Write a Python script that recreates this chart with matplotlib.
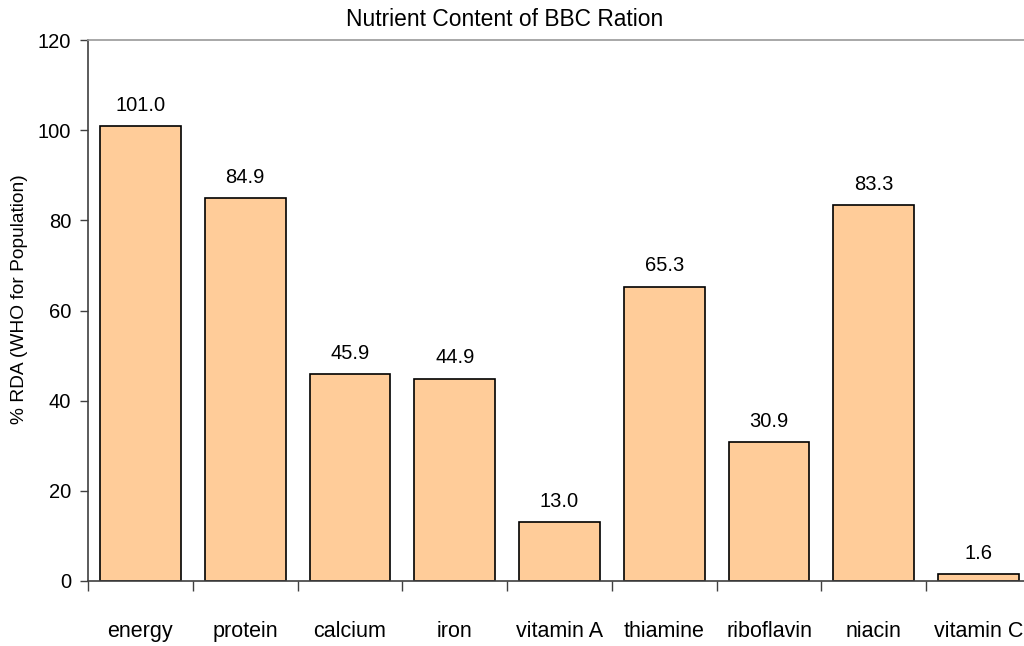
import matplotlib.pyplot as plt
import numpy as np

plt.rcParams['font.family'] = ['Liberation Sans', 'DejaVu Sans']

nutrients = ['energy', 'protein', 'calcium', 'iron', 'vitamin A',
             'thiamine', 'riboflavin', 'niacin', 'vitamin C']
pct_rda = [101.0, 84.9, 45.9, 44.9, 13.0, 65.3, 30.9, 83.3, 1.6]
yticks = [0, 20, 40, 60, 80, 100, 120]

fig = plt.figure(figsize=(10.24, 6.46), dpi=100)
# axes run a bit past the right edge, like the original (cropped) chart
ax = fig.add_axes([88 / 1024, 1 - 581 / 646, (1031 - 88) / 1024, (581 - 40) / 646])

x = np.arange(len(nutrients))
bars = ax.bar(x, pct_rda, width=0.77, color='#FFCC99', edgecolor='black', linewidth=1.2)

for xi, v in zip(x, pct_rda):
    ax.annotate(f'{v:.1f}', (xi, v), xytext=(0, 8), textcoords='offset points',
                ha='center', va='bottom', fontsize=14.5)

ax.set_xlim(-0.5, len(nutrients) - 0.5)
ax.set_ylim(0, 120)
ax.set_yticks(yticks)
ax.tick_params(axis='y', direction='out', length=6, width=1, color='#404040',
               labelsize=14.5, pad=6)

ax.set_xticks(x)
ax.set_xticklabels(nutrients)
ax.tick_params(axis='x', which='major', length=0, labelsize=15.5, pad=29)
ax.set_xticks(np.arange(len(nutrients) + 1) - 0.5, minor=True)
ax.tick_params(axis='x', which='minor', direction='out', length=7, width=1, color='#404040')

ax.spines['left'].set_color('#404040')
ax.spines['bottom'].set_color('#404040')
ax.spines['top'].set_color('#999999')
ax.spines['right'].set_visible(False)
for s in ax.spines.values():
    s.set_linewidth(1.2)

fig.text(20 / 1024, 1 - 299 / 646, '% RDA (WHO for Population)', rotation=90,
         ha='center', va='center', fontsize=13.8)
fig.text(505 / 1024, 1 - 20 / 646, 'Nutrient Content of BBC Ration',
         ha='center', va='center', fontsize=16.4)

fig.savefig('out.png', dpi=100)
